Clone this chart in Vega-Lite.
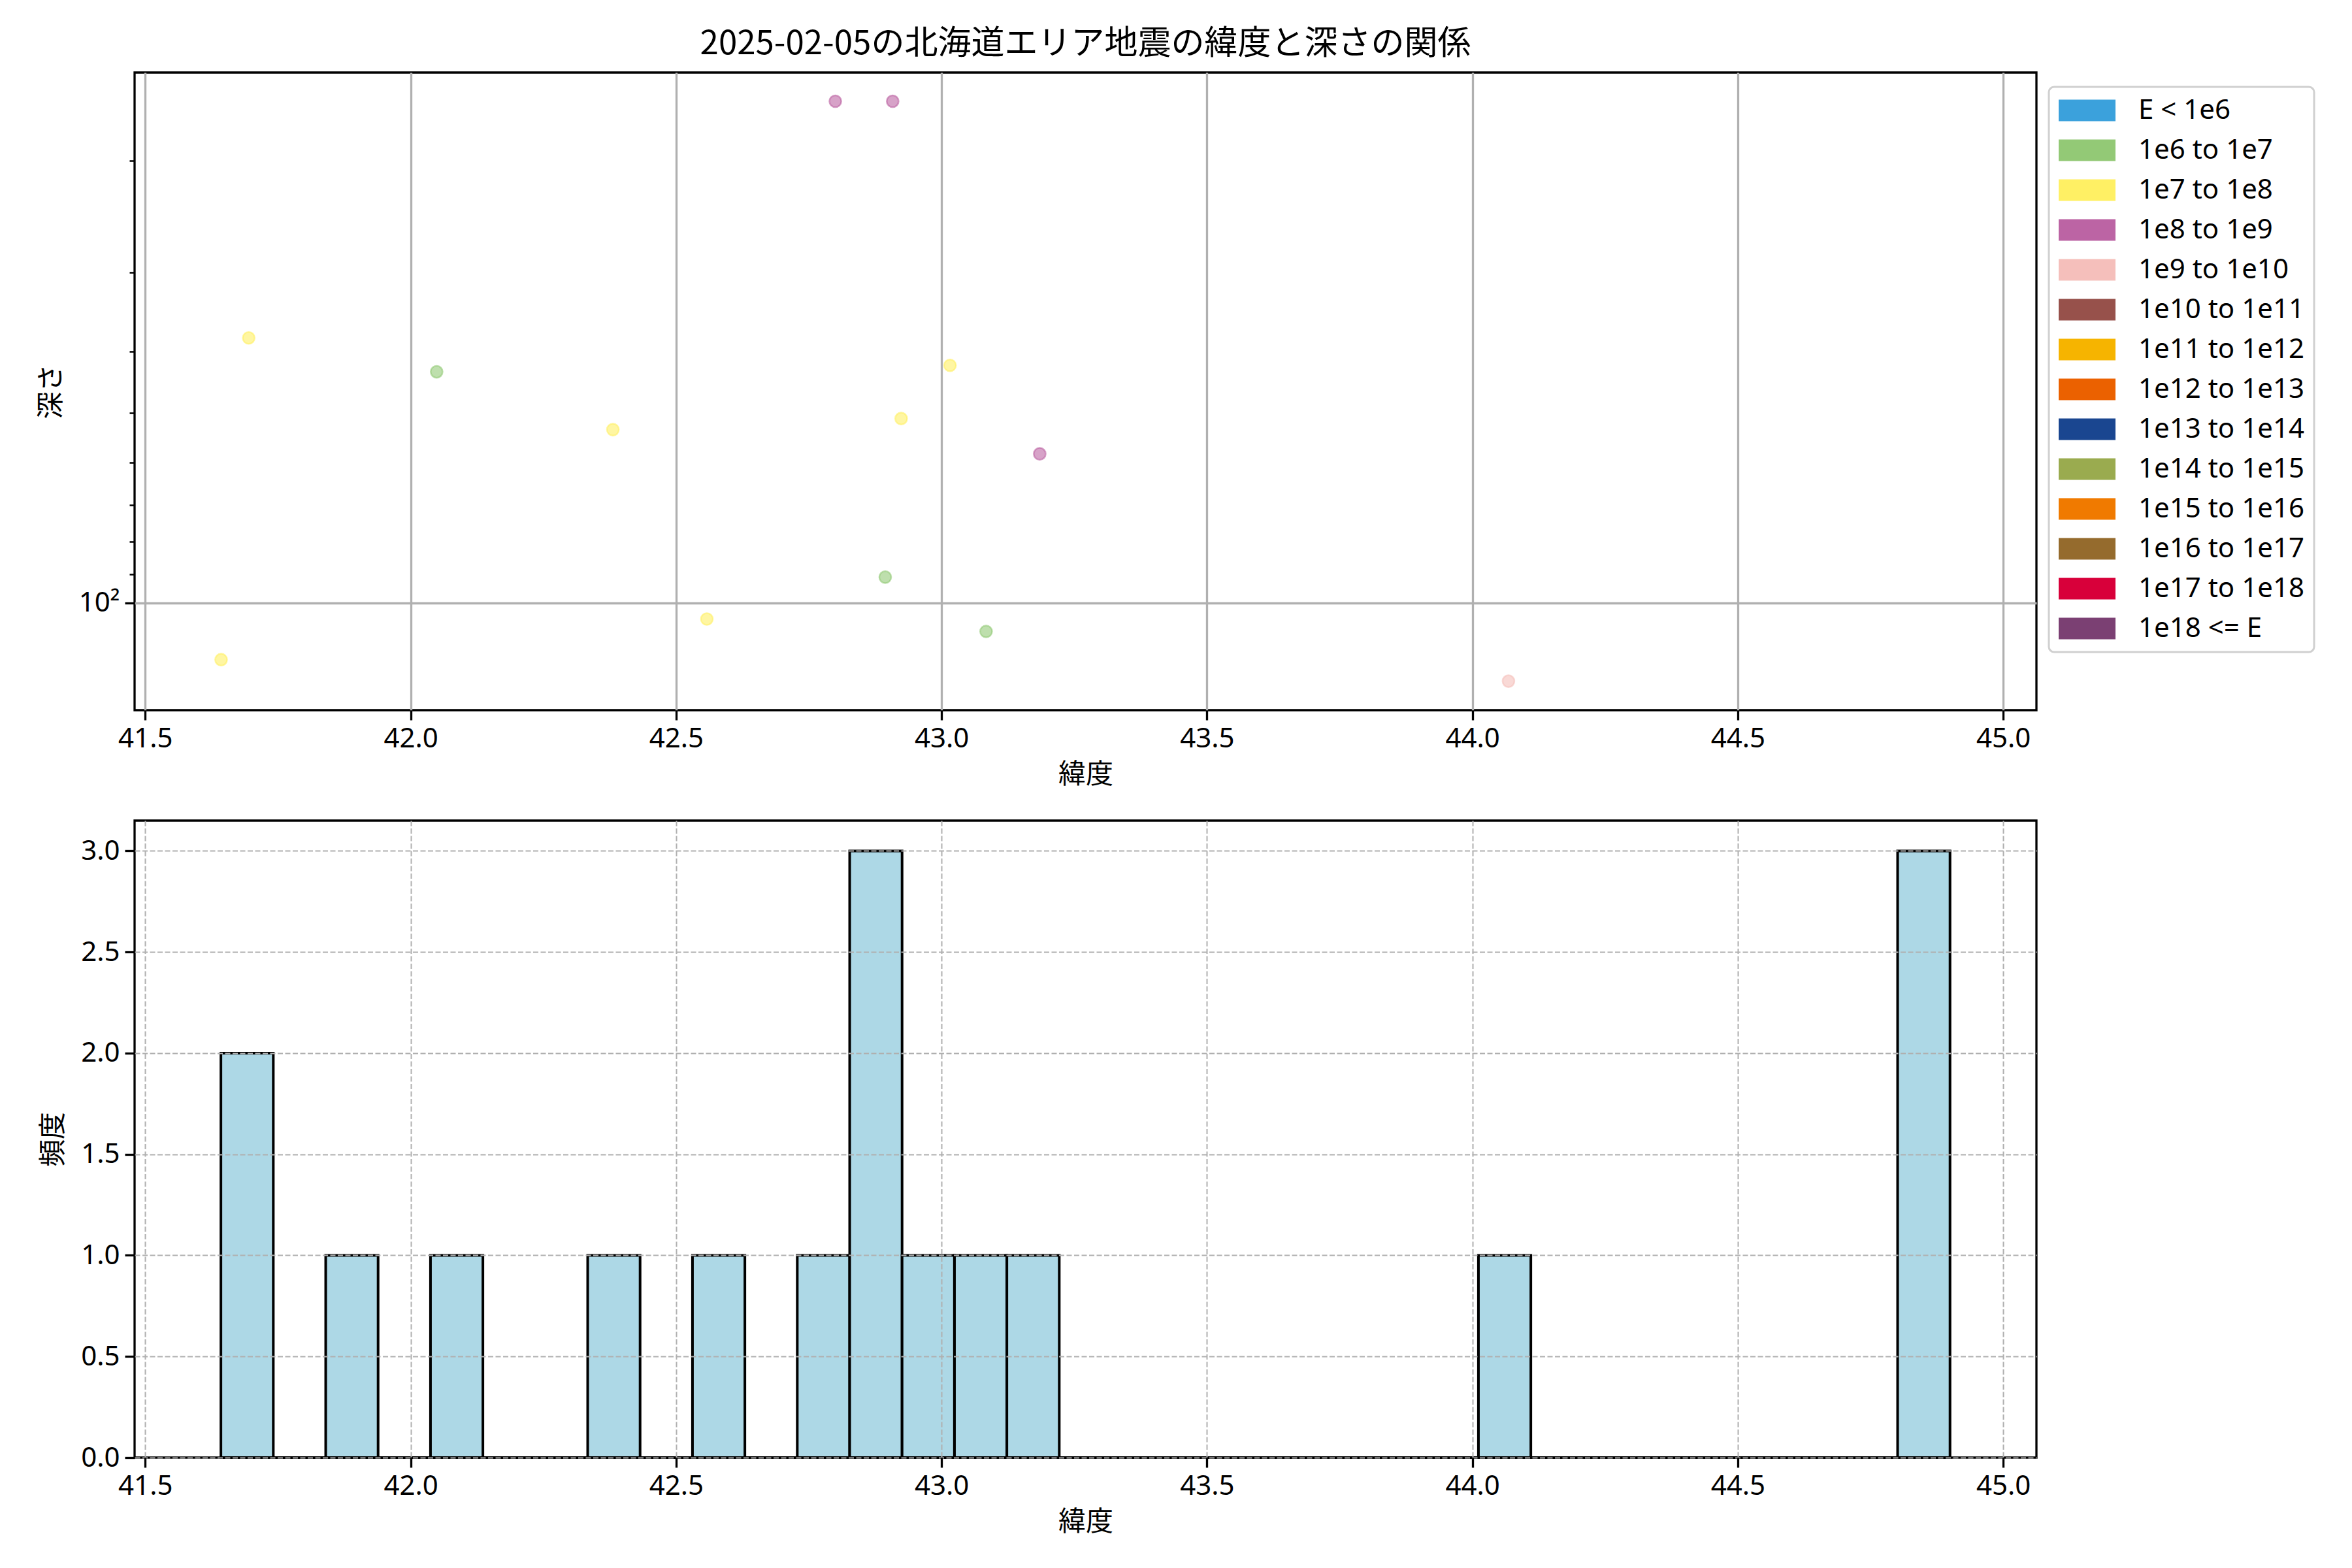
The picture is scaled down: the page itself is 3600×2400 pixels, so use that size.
{
  "$schema": "https://vega.github.io/schema/vega-lite/v6.json",
  "background": "white",
  "padding": {"left": 55, "top": 40, "right": 5, "bottom": 5},
  "spacing": 46,
  "config": {
    "font": "Noto Sans CJK JP",
    "view": {"stroke": "black", "strokeWidth": 3.3},
    "legend": {"strokeWidth": 3},
    "axis": {
      "labelFont": "Noto Sans, Noto Sans CJK JP",
      "labelFontSize": 42,
      "labelColor": "black",
      "titleFont": "Noto Sans CJK JP",
      "titleFontSize": 42,
      "titleFontWeight": "normal",
      "titleColor": "black",
      "tickColor": "black",
      "tickSize": 15,
      "tickWidth": 3.3,
      "domain": false,
      "labelPadding": 8,
      "titlePadding": 14
    },
    "title": {"font": "Noto Sans CJK JP", "fontSize": 51, "fontWeight": "normal", "color": "black"}
  },
  "vconcat": [
    {
      "title": {"text": "2025-02-05の北海道エリア地震の緯度と深さの関係", "baseline": "alphabetic", "offset": -23},
      "width": 2911,
      "height": 976,
      "data": {
        "values": [
          {"lat": 42.800, "depth": 16.1, "class": "1e8 to 1e9"},
          {"lat": 42.908, "depth": 16.1, "class": "1e8 to 1e9"},
          {"lat": 41.695, "depth": 38.1, "class": "1e7 to 1e8"},
          {"lat": 42.049, "depth": 43.1, "class": "1e6 to 1e7"},
          {"lat": 42.381, "depth": 53.2, "class": "1e7 to 1e8"},
          {"lat": 43.016, "depth": 42.1, "class": "1e7 to 1e8"},
          {"lat": 42.924, "depth": 51.1, "class": "1e7 to 1e8"},
          {"lat": 43.185, "depth": 58.1, "class": "1e8 to 1e9"},
          {"lat": 42.894, "depth": 91.0, "class": "1e6 to 1e7"},
          {"lat": 42.558, "depth": 106.0, "class": "1e7 to 1e8"},
          {"lat": 43.084, "depth": 110.9, "class": "1e6 to 1e7"},
          {"lat": 41.643, "depth": 122.9, "class": "1e7 to 1e8"},
          {"lat": 44.068, "depth": 132.9, "class": "1e9 to 1e10"}
        ]
      },
      "mark": {"type": "point", "filled": true, "size": 330, "opacity": 1, "fillOpacity": 0.6, "strokeOpacity": 0.6, "strokeWidth": 2.5},
      "encoding": {
        "x": {
          "field": "lat", "type": "quantitative",
          "scale": {"domain": [41.48, 45.0625], "nice": false, "zero": false},
          "axis": {"title": "緯度", "values": [41.5, 42.0, 42.5, 43.0, 43.5, 44.0, 44.5, 45.0], "format": ".1f", "gridColor": "#b0b0b0", "gridWidth": 3.3, "gridOpacity": 1}
        },
        "y": {
          "field": "depth", "type": "quantitative",
          "scale": {"type": "log", "domain": [14.5, 147.7], "reverse": true, "nice": false},
          "axis": {
            "title": "深さ",
            "values": [20, 30, 40, 50, 60, 70, 80, 90, 100],
            "labelExpr": "datum.value == 100 ? '10²' : ''",
            "tickSize": {"condition": {"test": "datum.value == 100", "value": 15}, "value": 8},
            "tickWidth": {"condition": {"test": "datum.value == 100", "value": 3.3}, "value": 2.5},
            "gridOpacity": {"condition": {"test": "datum.value == 100", "value": 1}, "value": 0},
            "gridColor": "#b0b0b0",
            "gridWidth": 3.3,
            "titlePadding": 20
          }
        },
        "fill": {
          "field": "class", "type": "nominal",
          "scale": {
            "domain": ["E < 1e6", "1e6 to 1e7", "1e7 to 1e8", "1e8 to 1e9", "1e9 to 1e10", "1e10 to 1e11", "1e11 to 1e12", "1e12 to 1e13", "1e13 to 1e14", "1e14 to 1e15", "1e15 to 1e16", "1e16 to 1e17", "1e17 to 1e18", "1e18 <= E"],
            "range": ["#3ba1dc", "#93c976", "#fff064", "#bc64a4", "#f5bfbb", "#97514b", "#f6b400", "#eb6100", "#1a4690", "#9aab4f", "#f07a00", "#956b2d", "#d8003a", "#7b4073"]
          },
          "legend": {
            "title": null,
            "orient": "none",
            "legendX": 2930,
            "legendY": 22,
            "symbolType": "M-1,-0.379L1,-0.379L1,0.379L-1,0.379Z",
            "symbolSize": 7569,
            "symbolOpacity": 1,
            "symbolStrokeWidth": 0,
            "clipHeight": 42,
            "rowPadding": 19,
            "labelFont": "Noto Sans",
            "labelFontSize": 42,
            "labelColor": "black",
            "labelOffset": 35,
            "labelLimit": 600,
            "padding": 15,
            "strokeColor": "#d0d0d0",
            "fillColor": "white",
            "cornerRadius": 8
          }
        },
        "stroke": {
          "field": "class", "type": "nominal",
          "scale": {
            "domain": ["E < 1e6", "1e6 to 1e7", "1e7 to 1e8", "1e8 to 1e9", "1e9 to 1e10", "1e10 to 1e11", "1e11 to 1e12", "1e12 to 1e13", "1e13 to 1e14", "1e14 to 1e15", "1e15 to 1e16", "1e16 to 1e17", "1e17 to 1e18", "1e18 <= E"],
            "range": ["#3ba1dc", "#93c976", "#fff064", "#bc64a4", "#f5bfbb", "#97514b", "#f6b400", "#eb6100", "#1a4690", "#9aab4f", "#f07a00", "#956b2d", "#d8003a", "#7b4073"]
          },
          "legend": null
        }
      }
    },
    {
      "width": 2911,
      "height": 975,
      "data": {
        "values": [
          {"bin_start": 41.6426, "bin_end": 41.7413, "count": 2},
          {"bin_start": 41.7413, "bin_end": 41.8400, "count": 0},
          {"bin_start": 41.8400, "bin_end": 41.9387, "count": 1},
          {"bin_start": 41.9387, "bin_end": 42.0374, "count": 0},
          {"bin_start": 42.0374, "bin_end": 42.1361, "count": 1},
          {"bin_start": 42.1361, "bin_end": 42.2348, "count": 0},
          {"bin_start": 42.2348, "bin_end": 42.3335, "count": 0},
          {"bin_start": 42.3335, "bin_end": 42.4322, "count": 1},
          {"bin_start": 42.4322, "bin_end": 42.5309, "count": 0},
          {"bin_start": 42.5309, "bin_end": 42.6296, "count": 1},
          {"bin_start": 42.6296, "bin_end": 42.7283, "count": 0},
          {"bin_start": 42.7283, "bin_end": 42.8270, "count": 1},
          {"bin_start": 42.8270, "bin_end": 42.9257, "count": 3},
          {"bin_start": 42.9257, "bin_end": 43.0244, "count": 1},
          {"bin_start": 43.0244, "bin_end": 43.1231, "count": 1},
          {"bin_start": 43.1231, "bin_end": 43.2218, "count": 1},
          {"bin_start": 43.2218, "bin_end": 43.3205, "count": 0},
          {"bin_start": 43.3205, "bin_end": 43.4192, "count": 0},
          {"bin_start": 43.4192, "bin_end": 43.5179, "count": 0},
          {"bin_start": 43.5179, "bin_end": 43.6166, "count": 0},
          {"bin_start": 43.6166, "bin_end": 43.7153, "count": 0},
          {"bin_start": 43.7153, "bin_end": 43.8140, "count": 0},
          {"bin_start": 43.8140, "bin_end": 43.9127, "count": 0},
          {"bin_start": 43.9127, "bin_end": 44.0114, "count": 0},
          {"bin_start": 44.0114, "bin_end": 44.1101, "count": 1},
          {"bin_start": 44.1101, "bin_end": 44.2088, "count": 0},
          {"bin_start": 44.2088, "bin_end": 44.3075, "count": 0},
          {"bin_start": 44.3075, "bin_end": 44.4062, "count": 0},
          {"bin_start": 44.4062, "bin_end": 44.5049, "count": 0},
          {"bin_start": 44.5049, "bin_end": 44.6036, "count": 0},
          {"bin_start": 44.6036, "bin_end": 44.7023, "count": 0},
          {"bin_start": 44.7023, "bin_end": 44.8010, "count": 0},
          {"bin_start": 44.8010, "bin_end": 44.8997, "count": 3}
        ]
      },
      "mark": {"type": "bar", "fill": "#add8e6", "stroke": "black", "strokeWidth": 4},
      "encoding": {
        "x": {
          "field": "bin_start", "type": "quantitative",
          "scale": {"domain": [41.48, 45.0625], "nice": false, "zero": false},
          "axis": {"title": "緯度", "values": [41.5, 42.0, 42.5, 43.0, 43.5, 44.0, 44.5, 45.0], "format": ".1f", "gridColor": "#b0b0b0", "gridWidth": 2, "gridDash": [8, 3.5], "zindex": 1}
        },
        "x2": {"field": "bin_end"},
        "y": {
          "field": "count", "type": "quantitative",
          "scale": {"domain": [0, 3.15], "nice": false},
          "axis": {"title": "頻度", "values": [0, 0.5, 1, 1.5, 2, 2.5, 3], "format": ".1f", "gridColor": "#b0b0b0", "gridWidth": 2, "gridDash": [8, 3.5], "zindex": 1, "titlePadding": 20}
        },
        "y2": {"datum": 0}
      }
    }
  ]
}
